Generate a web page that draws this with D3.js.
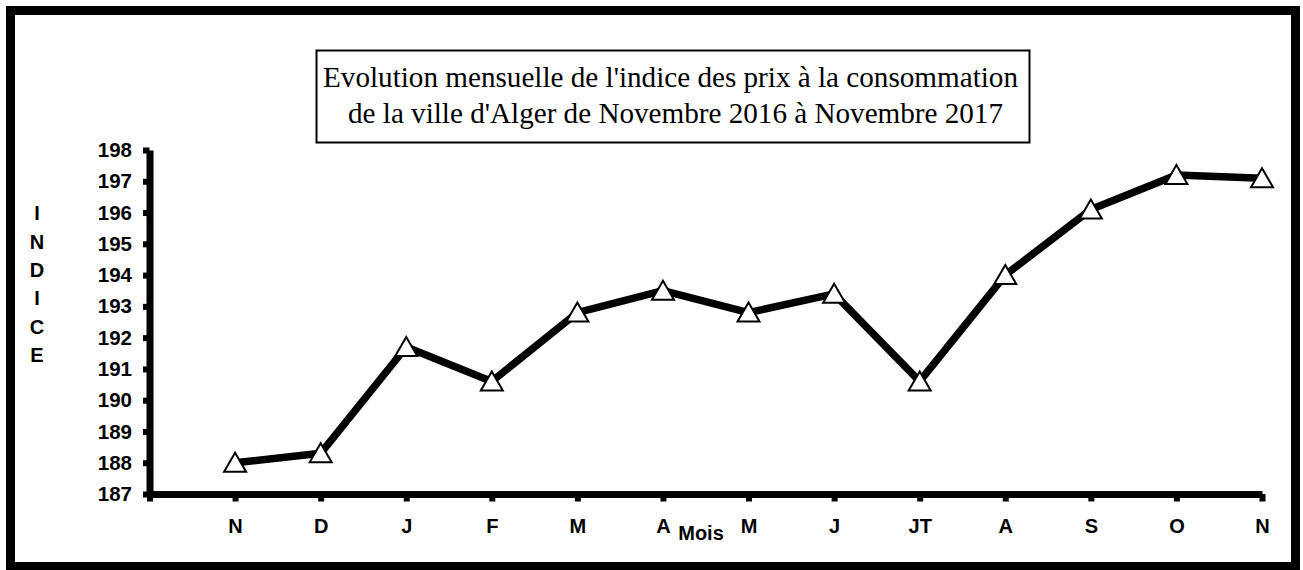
<!DOCTYPE html>
<html>
<head>
<meta charset="utf-8">
<script src="https://cdn.jsdelivr.net/npm/d3@7"></script>
<style>
  html, body { margin: 0; padding: 0; background: #fff; }
  svg { display: block; }
</style>
</head>
<body>
<svg id="chart" width="1303" height="570"></svg>
<script>
// ---- Data ----
const months = ["N", "D", "J", "F", "M", "A", "M", "J", "JT", "A", "S", "O", "N"];
const indexValues = [188.0, 188.3, 191.7, 190.6, 192.8, 193.5, 192.8, 193.4, 190.6, 194.0, 196.1, 197.2, 197.1];
const yTicks = [187, 188, 189, 190, 191, 192, 193, 194, 195, 196, 197, 198];
const titleLines = [
  "Evolution mensuelle de l'indice des prix à la consommation",
  "de la ville d'Alger de Novembre 2016 à Novembre 2017"
];
const yTitleLetters = ["I", "N", "D", "I", "C", "E"];
const xTitle = "Mois";

// ---- Layout ----
const svg = d3.select("#chart");
const sans = "'Liberation Sans', Arial, sans-serif";
const serif = "'Liberation Serif', 'Times New Roman', serif";

// Outer border
svg.append("rect")
  .attr("x", 10.5).attr("y", 10.5)
  .attr("width", 1285).attr("height", 556)
  .attr("fill", "none").attr("stroke", "#000").attr("stroke-width", 9);

// Scales
const x = d3.scaleLinear().domain([-1, months.length - 1]).range([149.5, 1262]);
const y = d3.scaleLinear().domain([187, 198]).range([494, 150]);

// Y axis
const yAxis = svg.append("g")
  .attr("transform", "translate(149.5,0)")
  .call(d3.axisLeft(y).tickValues(yTicks).tickFormat(d3.format("d"))
        .tickSizeInner(6.5).tickSizeOuter(0).tickPadding(11));
yAxis.select(".domain").attr("stroke", "#000").attr("stroke-width", 7);
yAxis.selectAll(".tick line").attr("stroke", "#000").attr("stroke-width", 6);
yAxis.selectAll(".tick text")
  .attr("font-family", sans).attr("font-weight", "bold").attr("font-size", "20.5px")
  .attr("fill", "#000");

// X axis
const xAxis = svg.append("g")
  .attr("transform", "translate(0,494)")
  .call(d3.axisBottom(x).tickValues(d3.range(-1, months.length))
        .tickFormat(i => i < 0 ? "" : months[i])
        .tickSizeInner(7.5).tickSizeOuter(0).tickPadding(17));
xAxis.select(".domain").attr("stroke", "#000").attr("stroke-width", 7);
xAxis.selectAll(".tick line").attr("stroke", "#000").attr("stroke-width", 6);
xAxis.selectAll(".tick text")
  .attr("font-family", sans).attr("font-weight", "bold").attr("font-size", "20px")
  .attr("fill", "#000");

// Line
const line = d3.line().x((d, i) => x(i)).y(d => y(d));
svg.append("path")
  .datum(indexValues)
  .attr("d", line)
  .attr("fill", "none").attr("stroke", "#000").attr("stroke-width", 7.5)
  .attr("stroke-linejoin", "round");

// Triangle markers
const tri = "M0,-10 L11,9 L-11,9 Z";
svg.selectAll("path.marker")
  .data(indexValues)
  .join("path")
  .attr("class", "marker")
  .attr("transform", (d, i) => `translate(${x(i)},${y(d)})`)
  .attr("d", tri)
  .attr("fill", "#fff").attr("stroke", "#000").attr("stroke-width", 2);

// Title box
svg.append("rect")
  .attr("x", 316.5).attr("y", 50.5)
  .attr("width", 713).attr("height", 92)
  .attr("fill", "#fff").attr("stroke", "#000").attr("stroke-width", 2);

const titleX = [323, 348];
const titleBase = [87, 123];
const titleWidths = [695, 655];
titleLines.forEach((t, i) => {
  svg.append("text")
    .attr("x", titleX[i]).attr("y", titleBase[i])
    .attr("font-family", serif).attr("font-size", "30px")
    .attr("textLength", titleWidths[i])
    .attr("lengthAdjust", "spacingAndGlyphs")
    .attr("fill", "#000")
    .text(t);
});

// Y title (stacked letters)
svg.selectAll("text.ytitle")
  .data(yTitleLetters)
  .join("text")
  .attr("class", "ytitle")
  .attr("x", 37)
  .attr("y", (d, i) => 213 + i * 28.4)
  .attr("dy", "0.36em")
  .attr("text-anchor", "middle")
  .attr("font-family", sans).attr("font-weight", "bold").attr("font-size", "20px")
  .attr("fill", "#000")
  .text(d => d);

// X title
svg.append("text")
  .attr("x", 701).attr("y", 540)
  .attr("text-anchor", "middle")
  .attr("font-family", sans).attr("font-weight", "bold").attr("font-size", "20px")
  .attr("fill", "#000")
  .text(xTitle);
</script>
</body>
</html>
